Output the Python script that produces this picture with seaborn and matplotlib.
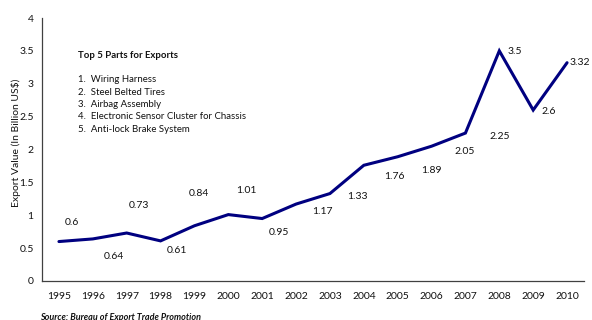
import matplotlib
matplotlib.use("Agg")
import matplotlib.pyplot as plt
import seaborn as sns
import pandas as pd
import numpy as np
from matplotlib.ticker import FixedLocator

years = ["1995", "1996", "1997", "1998", "1999", "2000", "2001", "2002",
         "2003", "2004", "2005", "2006", "2007", "2008", "2009", "2010"]
export_value = [0.6, 0.64, 0.73, 0.61, 0.84, 1.01, 0.95, 1.17,
                1.33, 1.76, 1.89, 2.05, 2.25, 3.5, 2.6, 3.32]
y_ticks = [0, 0.5, 1, 1.5, 2, 2.5, 3, 3.5, 4]
y_tick_labels = ["0", "0.5", "1", "1.5", "2", "2.5", "3", "3.5", "4"]
box_title = "Top 5 Parts for Exports"
top_parts = ["Wiring Harness", "Steel Belted Tires", "Airbag Assembly",
             "Electronic Sensor Cluster for Chassis", "Anti-lock Brake System"]

# label offsets (pixels, right / down) from each point
label_dx = [13, 21, 12, 16, 4, 18, 17, 26, 27, 31, 34, 33, 34, 8, 8, 2]
label_dy = [-19, 18, -28, 10, -32, -24, 14, 7, 3, 11, 14, 5, 3, 1, 1, 0]
label_ha = ["center"] * 13 + ["left", "left", "left"]

sns.set_theme(style="white")
plt.rcParams["font.family"] = ["Lato", "DejaVu Sans"]

df = pd.DataFrame({"idx": np.arange(len(years)), "value": export_value})

W, H = 592, 320
fig = plt.figure(figsize=(W / 100, H / 100), dpi=100)
ax = fig.add_axes([42 / W, 1 - 281 / H, (584 - 42) / W, (281 - 18) / H])

sns.lineplot(data=df, x="idx", y="value", ax=ax, color="#000080",
             linewidth=2.2, solid_joinstyle="miter")

ax.set_xlim(-0.5, len(years) - 0.5)
ax.set_ylim(0, 4)
ax.set_yticks(y_ticks)
ax.set_yticklabels(y_tick_labels, fontsize=7.5)
ax.set_xticks(np.arange(len(years)))
ax.set_xticklabels(years, fontsize=7.5)
ax.xaxis.set_minor_locator(FixedLocator(np.arange(-0.5, len(years), 1.0)))
ax.tick_params(axis="x", which="major", length=0, pad=8, colors="#111111")
ax.tick_params(axis="x", which="minor", length=4, width=0.8, color="#404040", direction="out")
ax.tick_params(axis="y", which="major", length=4, width=0.8, color="#404040",
               labelcolor="#111111", direction="out", pad=2)
ax.set_xlabel("")
ax.set_ylabel("")
for side in ["top", "right"]:
    ax.spines[side].set_visible(False)
for side in ["left", "bottom"]:
    ax.spines[side].set_color("#404040")
    ax.spines[side].set_linewidth(0.9)

for i, v in enumerate(export_value):
    ax.annotate(f"{v:g}", xy=(i, v), xytext=(label_dx[i] * 0.72, -label_dy[i] * 0.72),
                textcoords="offset points", ha=label_ha[i], va="center",
                fontsize=7.5, color="#111111")

fig.text(16 / W, 1 - 143 / H, "Export Value (In Billion US$)", rotation=90,
         ha="center", va="center", fontsize=7.5, color="#111111")

fig.text(78 / W, 1 - 55 / H, box_title, fontsize=6.9, fontweight="bold",
         ha="left", va="center", color="#111111")
for k, part in enumerate(top_parts):
    fig.text(78 / W, 1 - (80 + 12.3 * k) / H, f"{k + 1}.  {part}", fontsize=6.9,
             ha="left", va="center", color="#111111")

fig.text(40 / W, 1 - 317 / H, "Source: Bureau of Export Trade Promotion",
         fontsize=6.5, fontweight="bold", fontstyle="italic",
         ha="left", va="center", color="#111111")

fig.savefig("out.png", dpi=100)
